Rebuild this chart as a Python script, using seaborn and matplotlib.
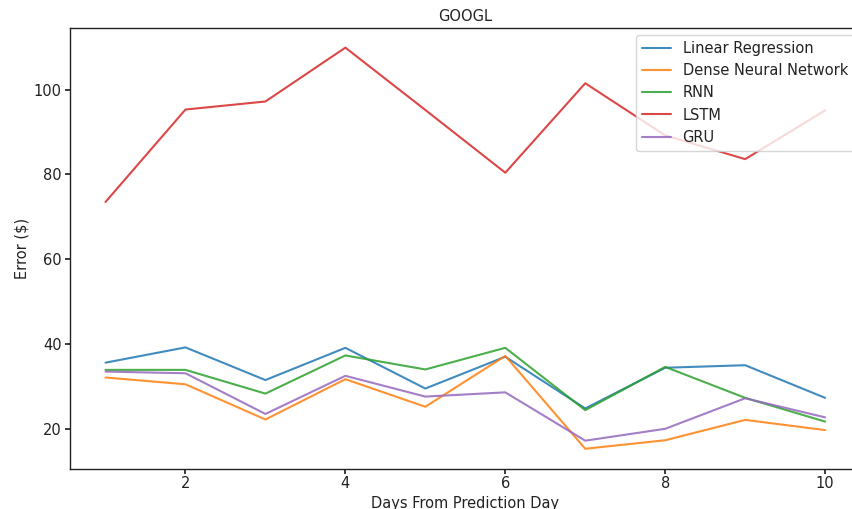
import numpy as np
import pandas as pd
import matplotlib
matplotlib.use("Agg")
import matplotlib.pyplot as plt
import seaborn as sns

days = [1, 2, 3, 4, 5, 6, 7, 8, 9, 10]
linear_regression = [35.6, 39.2, 31.5, 39.1, 29.5, 37.0, 24.8, 34.4, 35.0, 27.3]
dense_nn = [32.1, 30.5, 22.2, 31.7, 25.2, 37.2, 15.3, 17.3, 22.1, 19.7]
rnn = [33.9, 33.9, 28.3, 37.3, 34.0, 39.1, 24.4, 34.6, 27.3, 21.7]
lstm = [73.5, 95.3, 97.2, 109.9, 95.2, 80.4, 101.5, 89.2, 83.6, 95.1]
gru = [33.5, 33.1, 23.5, 32.5, 27.6, 28.6, 17.2, 20.0, 27.2, 22.7]
models = ["Linear Regression", "Dense Neural Network", "RNN", "LSTM", "GRU"]

series = [linear_regression, dense_nn, rnn, lstm, gru]
df = pd.DataFrame({
    "day": days * len(models),
    "error": [v for s in series for v in s],
    "model": [m for m in models for _ in days],
})

sns.set_theme(style="ticks", rc={
    "xtick.major.size": 3.5, "ytick.major.size": 3.5,
    "xtick.major.pad": 2.0, "ytick.major.pad": 2.0,
    "axes.edgecolor": "#222222", "text.color": "#222222",
    "axes.labelcolor": "#222222", "xtick.color": "#222222",
    "ytick.color": "#222222", "axes.linewidth": 1.0,
})
plt.rcParams["font.family"] = ["DejaVu Sans"]

fig = plt.figure(figsize=(8.53, 5.09), dpi=100)
ax = fig.add_axes([0.0815, 0.079, 0.928, 0.8668])

sns.lineplot(data=df, x="day", y="error", hue="model", hue_order=models,
             palette="tab10", linewidth=1.5, alpha=0.85, ax=ax)

ax.set_title("GOOGL", fontsize=10.5, pad=5)
ax.set_xlabel("Days From Prediction Day", fontsize=10.5, labelpad=3)
ax.set_ylabel("Error ($)", fontsize=10.5, labelpad=3.5)
ax.tick_params(labelsize=10.5)
ax.set_xticks([2, 4, 6, 8, 10])
ax.set_yticks([20, 40, 60, 80, 100])
ax.set_xlim(0.55, 10.45)
ax.set_ylim(10.57, 114.63)

leg = ax.legend(loc="upper right", fontsize=10.5, framealpha=0.8)

fig.savefig("out.png", dpi=100)
